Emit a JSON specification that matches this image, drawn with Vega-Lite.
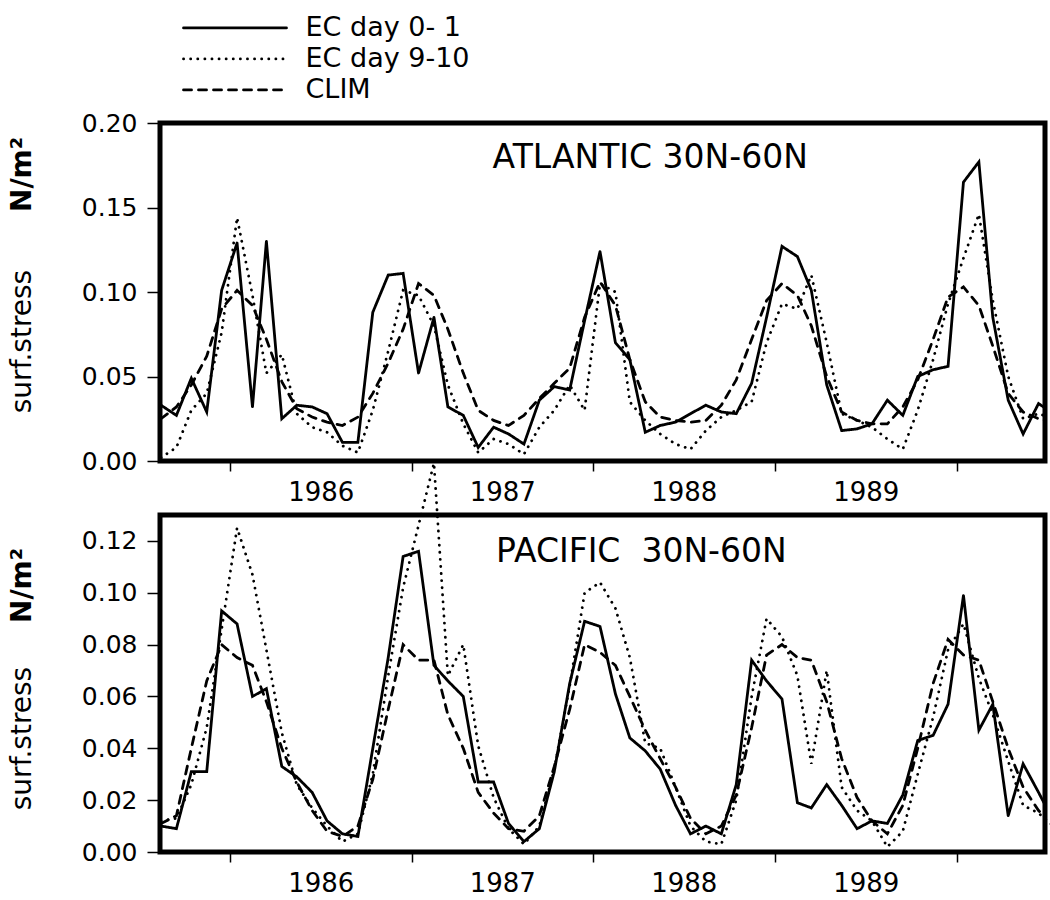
{
  "$schema": "https://vega.github.io/schema/vega-lite/v6.json",
  "background": "white",
  "padding": {"left": 5, "top": 11, "right": 0, "bottom": 5},
  "config": {
    "font": "DejaVu Sans",
    "view": {"stroke": "black", "strokeWidth": 5},
    "axis": {"grid": false, "domain": false, "labelColor": "black", "tickColor": "black", "titleColor": "black", "labelFont": "DejaVu Sans", "titleFont": "DejaVu Sans"},
    "legend": {"labelFont": "DejaVu Sans"}
  },
  "datasets": {
    "atl": [
      {"date": "1985-08-15", "ec01": 0.033, "ec910": 0.002, "clim": 0.025},
      {"date": "1985-09-15", "ec01": 0.027, "ec910": 0.008, "clim": 0.032},
      {"date": "1985-10-15", "ec01": 0.049, "ec910": 0.030, "clim": 0.045},
      {"date": "1985-11-15", "ec01": 0.029, "ec910": 0.040, "clim": 0.062},
      {"date": "1985-12-15", "ec01": 0.101, "ec910": 0.076, "clim": 0.090},
      {"date": "1986-01-15", "ec01": 0.129, "ec910": 0.144, "clim": 0.101},
      {"date": "1986-02-15", "ec01": 0.032, "ec910": 0.098, "clim": 0.092},
      {"date": "1986-03-15", "ec01": 0.130, "ec910": 0.052, "clim": 0.072},
      {"date": "1986-04-15", "ec01": 0.025, "ec910": 0.063, "clim": 0.047},
      {"date": "1986-05-15", "ec01": 0.033, "ec910": 0.028, "clim": 0.031},
      {"date": "1986-06-15", "ec01": 0.032, "ec910": 0.020, "clim": 0.026},
      {"date": "1986-07-15", "ec01": 0.028, "ec910": 0.017, "clim": 0.023},
      {"date": "1986-08-15", "ec01": 0.011, "ec910": 0.009, "clim": 0.021},
      {"date": "1986-09-15", "ec01": 0.011, "ec910": 0.005, "clim": 0.026},
      {"date": "1986-10-15", "ec01": 0.088, "ec910": 0.030, "clim": 0.040},
      {"date": "1986-11-15", "ec01": 0.110, "ec910": 0.065, "clim": 0.058},
      {"date": "1986-12-15", "ec01": 0.111, "ec910": 0.101, "clim": 0.078},
      {"date": "1987-01-15", "ec01": 0.052, "ec910": 0.098, "clim": 0.105},
      {"date": "1987-02-15", "ec01": 0.085, "ec910": 0.080, "clim": 0.098},
      {"date": "1987-03-15", "ec01": 0.032, "ec910": 0.045, "clim": 0.078},
      {"date": "1987-04-15", "ec01": 0.027, "ec910": 0.022, "clim": 0.052},
      {"date": "1987-05-15", "ec01": 0.008, "ec910": 0.005, "clim": 0.030},
      {"date": "1987-06-15", "ec01": 0.020, "ec910": 0.013, "clim": 0.024},
      {"date": "1987-07-15", "ec01": 0.016, "ec910": 0.010, "clim": 0.021},
      {"date": "1987-08-15", "ec01": 0.010, "ec910": 0.004, "clim": 0.027},
      {"date": "1987-09-15", "ec01": 0.036, "ec910": 0.020, "clim": 0.037},
      {"date": "1987-10-15", "ec01": 0.044, "ec910": 0.030, "clim": 0.046},
      {"date": "1987-11-15", "ec01": 0.042, "ec910": 0.045, "clim": 0.055},
      {"date": "1987-12-15", "ec01": 0.083, "ec910": 0.030, "clim": 0.085},
      {"date": "1988-01-15", "ec01": 0.124, "ec910": 0.105, "clim": 0.106},
      {"date": "1988-02-15", "ec01": 0.070, "ec910": 0.100, "clim": 0.092},
      {"date": "1988-03-15", "ec01": 0.060, "ec910": 0.035, "clim": 0.060},
      {"date": "1988-04-15", "ec01": 0.017, "ec910": 0.024, "clim": 0.035},
      {"date": "1988-05-15", "ec01": 0.021, "ec910": 0.016, "clim": 0.026},
      {"date": "1988-06-15", "ec01": 0.023, "ec910": 0.010, "clim": 0.024},
      {"date": "1988-07-15", "ec01": 0.028, "ec910": 0.007, "clim": 0.023},
      {"date": "1988-08-15", "ec01": 0.033, "ec910": 0.018, "clim": 0.024},
      {"date": "1988-09-15", "ec01": 0.029, "ec910": 0.026, "clim": 0.033},
      {"date": "1988-10-15", "ec01": 0.028, "ec910": 0.030, "clim": 0.048},
      {"date": "1988-11-15", "ec01": 0.046, "ec910": 0.035, "clim": 0.072},
      {"date": "1988-12-15", "ec01": 0.085, "ec910": 0.070, "clim": 0.095},
      {"date": "1989-01-15", "ec01": 0.127, "ec910": 0.093, "clim": 0.105},
      {"date": "1989-02-15", "ec01": 0.121, "ec910": 0.090, "clim": 0.098},
      {"date": "1989-03-15", "ec01": 0.101, "ec910": 0.110, "clim": 0.080},
      {"date": "1989-04-15", "ec01": 0.045, "ec910": 0.070, "clim": 0.050},
      {"date": "1989-05-15", "ec01": 0.018, "ec910": 0.028, "clim": 0.029},
      {"date": "1989-06-15", "ec01": 0.019, "ec910": 0.024, "clim": 0.024},
      {"date": "1989-07-15", "ec01": 0.022, "ec910": 0.020, "clim": 0.022},
      {"date": "1989-08-15", "ec01": 0.036, "ec910": 0.013, "clim": 0.022},
      {"date": "1989-09-15", "ec01": 0.027, "ec910": 0.007, "clim": 0.032},
      {"date": "1989-10-15", "ec01": 0.050, "ec910": 0.030, "clim": 0.048},
      {"date": "1989-11-15", "ec01": 0.054, "ec910": 0.060, "clim": 0.072},
      {"date": "1989-12-15", "ec01": 0.056, "ec910": 0.093, "clim": 0.097},
      {"date": "1990-01-15", "ec01": 0.165, "ec910": 0.120, "clim": 0.103},
      {"date": "1990-02-15", "ec01": 0.177, "ec910": 0.146, "clim": 0.092},
      {"date": "1990-03-15", "ec01": 0.085, "ec910": 0.095, "clim": 0.068},
      {"date": "1990-04-15", "ec01": 0.036, "ec910": 0.050, "clim": 0.040},
      {"date": "1990-05-15", "ec01": 0.016, "ec910": 0.025, "clim": 0.029},
      {"date": "1990-06-15", "ec01": 0.034, "ec910": 0.028, "clim": 0.025},
      {"date": "1990-07-15", "ec01": 0.028, "ec910": 0.025, "clim": 0.023}
    ],
    "pac": [
      {"date": "1985-08-15", "ec01": 0.010, "ec910": 0.012, "clim": 0.011},
      {"date": "1985-09-15", "ec01": 0.009, "ec910": 0.013, "clim": 0.014},
      {"date": "1985-10-15", "ec01": 0.031, "ec910": 0.026, "clim": 0.040},
      {"date": "1985-11-15", "ec01": 0.031, "ec910": 0.048, "clim": 0.066},
      {"date": "1985-12-15", "ec01": 0.093, "ec910": 0.086, "clim": 0.080},
      {"date": "1986-01-15", "ec01": 0.088, "ec910": 0.125, "clim": 0.075},
      {"date": "1986-02-15", "ec01": 0.060, "ec910": 0.107, "clim": 0.072},
      {"date": "1986-03-15", "ec01": 0.063, "ec910": 0.078, "clim": 0.058},
      {"date": "1986-04-15", "ec01": 0.033, "ec910": 0.046, "clim": 0.040},
      {"date": "1986-05-15", "ec01": 0.029, "ec910": 0.026, "clim": 0.027},
      {"date": "1986-06-15", "ec01": 0.023, "ec910": 0.017, "clim": 0.016},
      {"date": "1986-07-15", "ec01": 0.012, "ec910": 0.010, "clim": 0.008},
      {"date": "1986-08-15", "ec01": 0.007, "ec910": 0.004, "clim": 0.006},
      {"date": "1986-09-15", "ec01": 0.006, "ec910": 0.007, "clim": 0.010},
      {"date": "1986-10-15", "ec01": 0.040, "ec910": 0.030, "clim": 0.028},
      {"date": "1986-11-15", "ec01": 0.075, "ec910": 0.068, "clim": 0.055},
      {"date": "1986-12-15", "ec01": 0.114, "ec910": 0.102, "clim": 0.080},
      {"date": "1987-01-15", "ec01": 0.116, "ec910": 0.126, "clim": 0.074},
      {"date": "1987-02-15", "ec01": 0.072, "ec910": 0.150, "clim": 0.074},
      {"date": "1987-03-15", "ec01": 0.066, "ec910": 0.068, "clim": 0.053},
      {"date": "1987-04-15", "ec01": 0.060, "ec910": 0.080, "clim": 0.040},
      {"date": "1987-05-15", "ec01": 0.027, "ec910": 0.041, "clim": 0.023},
      {"date": "1987-06-15", "ec01": 0.027, "ec910": 0.021, "clim": 0.015},
      {"date": "1987-07-15", "ec01": 0.011, "ec910": 0.009, "clim": 0.009},
      {"date": "1987-08-15", "ec01": 0.004, "ec910": 0.003, "clim": 0.008},
      {"date": "1987-09-15", "ec01": 0.009, "ec910": 0.010, "clim": 0.014},
      {"date": "1987-10-15", "ec01": 0.031, "ec910": 0.032, "clim": 0.033},
      {"date": "1987-11-15", "ec01": 0.065, "ec910": 0.064, "clim": 0.055},
      {"date": "1987-12-15", "ec01": 0.089, "ec910": 0.100, "clim": 0.080},
      {"date": "1988-01-15", "ec01": 0.087, "ec910": 0.104, "clim": 0.077},
      {"date": "1988-02-15", "ec01": 0.061, "ec910": 0.094, "clim": 0.072},
      {"date": "1988-03-15", "ec01": 0.044, "ec910": 0.075, "clim": 0.060},
      {"date": "1988-04-15", "ec01": 0.039, "ec910": 0.042, "clim": 0.047},
      {"date": "1988-05-15", "ec01": 0.032, "ec910": 0.040, "clim": 0.036},
      {"date": "1988-06-15", "ec01": 0.018, "ec910": 0.025, "clim": 0.025},
      {"date": "1988-07-15", "ec01": 0.007, "ec910": 0.010, "clim": 0.013},
      {"date": "1988-08-15", "ec01": 0.010, "ec910": 0.004, "clim": 0.007},
      {"date": "1988-09-15", "ec01": 0.007, "ec910": 0.003, "clim": 0.010},
      {"date": "1988-10-15", "ec01": 0.026, "ec910": 0.020, "clim": 0.022},
      {"date": "1988-11-15", "ec01": 0.074, "ec910": 0.060, "clim": 0.048},
      {"date": "1988-12-15", "ec01": 0.066, "ec910": 0.090, "clim": 0.076},
      {"date": "1989-01-15", "ec01": 0.059, "ec910": 0.083, "clim": 0.080},
      {"date": "1989-02-15", "ec01": 0.019, "ec910": 0.068, "clim": 0.075},
      {"date": "1989-03-15", "ec01": 0.017, "ec910": 0.034, "clim": 0.074},
      {"date": "1989-04-15", "ec01": 0.026, "ec910": 0.070, "clim": 0.058},
      {"date": "1989-05-15", "ec01": 0.018, "ec910": 0.025, "clim": 0.036},
      {"date": "1989-06-15", "ec01": 0.009, "ec910": 0.016, "clim": 0.021},
      {"date": "1989-07-15", "ec01": 0.012, "ec910": 0.012, "clim": 0.012},
      {"date": "1989-08-15", "ec01": 0.011, "ec910": 0.002, "clim": 0.007},
      {"date": "1989-09-15", "ec01": 0.022, "ec910": 0.008, "clim": 0.018},
      {"date": "1989-10-15", "ec01": 0.043, "ec910": 0.030, "clim": 0.040},
      {"date": "1989-11-15", "ec01": 0.045, "ec910": 0.052, "clim": 0.065},
      {"date": "1989-12-15", "ec01": 0.057, "ec910": 0.078, "clim": 0.082},
      {"date": "1990-01-15", "ec01": 0.099, "ec910": 0.088, "clim": 0.076},
      {"date": "1990-02-15", "ec01": 0.047, "ec910": 0.067, "clim": 0.074},
      {"date": "1990-03-15", "ec01": 0.057, "ec910": 0.053, "clim": 0.058},
      {"date": "1990-04-15", "ec01": 0.014, "ec910": 0.035, "clim": 0.040},
      {"date": "1990-05-15", "ec01": 0.034, "ec910": 0.018, "clim": 0.025},
      {"date": "1990-06-15", "ec01": 0.023, "ec910": 0.015, "clim": 0.016},
      {"date": "1990-07-15", "ec01": 0.012, "ec910": 0.010, "clim": 0.010}
    ],
    "atlLabel": [{"region": "ATLANTIC 30N-60N"}],
    "pacLabel": [{"region": "PACIFIC\u00a0 30N-60N"}]
  },
  "bounds": "flush",
  "spacing": 54,
  "resolve": {"scale": {"strokeDash": "independent"}, "legend": {"strokeDash": "independent"}},
  "vconcat": [
    {
      "width": 885,
      "height": 338,
      "resolve": {"axis": {"y": "independent"}},
      "layer": [
        {
          "data": {"name": "atl"},
          "transform": [{"fold": ["ec01", "ec910", "clim"], "as": ["series", "stress"]}],
          "mark": {"type": "line", "color": "black", "strokeWidth": 2.8, "strokeCap": "round", "clip": true},
          "encoding": {
            "x": {
              "field": "date", "type": "temporal",
              "scale": {"type": "utc", "domain": [{"year": 1985, "month": 8, "date": 13, "utc": true}, {"year": 1990, "month": 6, "date": 28, "utc": true}]},
              "axis": {
                "title": null,
                "values": [
                  {"year": 1986, "month": 1, "date": 1, "utc": true},
                  {"year": 1987, "month": 1, "date": 1, "utc": true},
                  {"year": 1988, "month": 1, "date": 1, "utc": true},
                  {"year": 1989, "month": 1, "date": 1, "utc": true},
                  {"year": 1990, "month": 1, "date": 1, "utc": true}
                ],
                "labelExpr": "utcyear(datum.value) < 1990 ? utcFormat(datum.value, '%Y') : ''",
                "labelOffset": 90.7,
                "tickSize": 10, "tickWidth": 1.5, "labelFontSize": 26, "labelPadding": 8,
                "labelOverlap": false, "labelFlush": false, "labelBound": false
              }
            },
            "y": {
              "field": "stress", "type": "quantitative",
              "scale": {"domain": [0, 0.2]},
              "axis": {
                "orient": "left", "values": [0, 0.05, 0.1, 0.15, 0.2], "format": ".2f",
                "labelFontSize": 25, "tickSize": 13, "tickWidth": 1.5, "labelPadding": 10,
                "labelOverlap": false, "labelFlush": false,
                "title": "surf.stress", "titleFontSize": 28, "titleFontWeight": "normal",
                "titleX": -130, "titleY": 218, "titleAngle": 270, "titleBaseline": "alphabetic", "titleAlign": "center"
              }
            },
            "strokeDash": {
              "field": "series", "type": "nominal",
              "scale": {"domain": ["ec01", "ec910", "clim"], "range": [[1, 0], [0.1, 7], [8, 7]]},
              "legend": {
                "orient": "none", "legendX": 61.5, "legendY": -108.6, "title": null,
                "symbolType": "M-5,0H5", "symbolSize": 424, "symbolStrokeWidth": 2.8, "symbolStrokeColor": "black",
                "labelFontSize": 27, "labelColor": "black", "labelOffset": 57, "labelLimit": 400, "rowPadding": 3, "padding": 0,
                "labelExpr": "datum.value == 'ec01' ? 'EC day 0- 1' : datum.value == 'ec910' ? 'EC day 9-10' : 'CLIM'",
                "encode": {"symbols": {"update": {"strokeCap": {"value": "round"}}}}
              }
            }
          }
        },
        {
          "data": {"name": "atlLabel"},
          "mark": {"type": "text", "align": "left", "baseline": "middle", "fontSize": 33, "color": "black", "font": "DejaVu Sans"},
          "encoding": {
            "x": {
              "datum": {"year": 1987, "month": 6, "date": 13, "utc": true}, "type": "temporal",
              "axis": {
                "title": null,
                "values": [
                  {"year": 1986, "month": 1, "date": 1, "utc": true},
                  {"year": 1987, "month": 1, "date": 1, "utc": true},
                  {"year": 1988, "month": 1, "date": 1, "utc": true},
                  {"year": 1989, "month": 1, "date": 1, "utc": true},
                  {"year": 1990, "month": 1, "date": 1, "utc": true}
                ],
                "labelExpr": "utcyear(datum.value) < 1990 ? utcFormat(datum.value, '%Y') : ''",
                "labelOffset": 90.7,
                "tickSize": 10, "tickWidth": 1.5, "labelFontSize": 26, "labelPadding": 8,
                "labelOverlap": false, "labelFlush": false, "labelBound": false
              }
            },
            "y": {
              "datum": 0.179, "type": "quantitative",
              "axis": {
                "orient": "left", "labels": false, "ticks": false, "domain": false,
                "title": "N/m²", "titleFontSize": 28, "titleFontWeight": "bold",
                "titleX": -130, "titleY": 51, "titleAngle": 270, "titleBaseline": "alphabetic", "titleAlign": "center"
              }
            },
            "text": {"field": "region"}
          }
        }
      ]
    },
    {
      "width": 885,
      "height": 337,
      "resolve": {"axis": {"y": "independent"}},
      "layer": [
        {
          "data": {"name": "pac"},
          "transform": [{"fold": ["ec01", "ec910", "clim"], "as": ["series", "stress"]}, {"filter": "datum.series != 'ec910'"}],
          "mark": {"type": "line", "color": "black", "strokeWidth": 2.8, "strokeCap": "round", "clip": true},
          "encoding": {
            "x": {
              "field": "date", "type": "temporal",
              "scale": {"type": "utc", "domain": [{"year": 1985, "month": 8, "date": 13, "utc": true}, {"year": 1990, "month": 6, "date": 28, "utc": true}]},
              "axis": {
                "title": null,
                "values": [
                  {"year": 1986, "month": 1, "date": 1, "utc": true},
                  {"year": 1987, "month": 1, "date": 1, "utc": true},
                  {"year": 1988, "month": 1, "date": 1, "utc": true},
                  {"year": 1989, "month": 1, "date": 1, "utc": true},
                  {"year": 1990, "month": 1, "date": 1, "utc": true}
                ],
                "labelExpr": "utcyear(datum.value) < 1990 ? utcFormat(datum.value, '%Y') : ''",
                "labelOffset": 90.7,
                "tickSize": 10, "tickWidth": 1.5, "labelFontSize": 26, "labelPadding": 8,
                "labelOverlap": false, "labelFlush": false, "labelBound": false
              }
            },
            "y": {
              "field": "stress", "type": "quantitative",
              "scale": {"domain": [0, 0.13]},
              "axis": {
                "orient": "left", "values": [0, 0.02, 0.04, 0.06, 0.08, 0.1, 0.12], "format": ".2f",
                "labelFontSize": 25, "tickSize": 13, "tickWidth": 1.5, "labelPadding": 10,
                "labelOverlap": false, "labelFlush": false,
                "title": "surf.stress", "titleFontSize": 28, "titleFontWeight": "normal",
                "titleX": -130, "titleY": 223, "titleAngle": 270, "titleBaseline": "alphabetic", "titleAlign": "center"
              }
            },
            "strokeDash": {
              "field": "series", "type": "nominal",
              "scale": {"domain": ["ec01", "ec910", "clim"], "range": [[1, 0], [0.1, 7], [8, 7]]},
              "legend": null
            }
          }
        },
        {
          "data": {"name": "pac"},
          "transform": [{"fold": ["ec01", "ec910", "clim"], "as": ["series", "stress"]}, {"filter": "datum.series == 'ec910'"}],
          "mark": {"type": "line", "color": "black", "strokeWidth": 2.8, "strokeCap": "round", "clip": false},
          "encoding": {
            "x": {
              "field": "date", "type": "temporal",
              "axis": {
                "title": null,
                "values": [
                  {"year": 1986, "month": 1, "date": 1, "utc": true},
                  {"year": 1987, "month": 1, "date": 1, "utc": true},
                  {"year": 1988, "month": 1, "date": 1, "utc": true},
                  {"year": 1989, "month": 1, "date": 1, "utc": true},
                  {"year": 1990, "month": 1, "date": 1, "utc": true}
                ],
                "labelExpr": "utcyear(datum.value) < 1990 ? utcFormat(datum.value, '%Y') : ''",
                "labelOffset": 90.7,
                "tickSize": 10, "tickWidth": 1.5, "labelFontSize": 26, "labelPadding": 8,
                "labelOverlap": false, "labelFlush": false, "labelBound": false
              }
            },
            "y": {"field": "stress", "type": "quantitative", "axis": null},
            "strokeDash": {"field": "series", "type": "nominal", "legend": null}
          }
        },
        {
          "data": {"name": "pacLabel"},
          "mark": {"type": "text", "align": "left", "baseline": "middle", "fontSize": 33, "color": "black", "font": "DejaVu Sans"},
          "encoding": {
            "x": {
              "datum": {"year": 1987, "month": 6, "date": 20, "utc": true}, "type": "temporal",
              "axis": {
                "title": null,
                "values": [
                  {"year": 1986, "month": 1, "date": 1, "utc": true},
                  {"year": 1987, "month": 1, "date": 1, "utc": true},
                  {"year": 1988, "month": 1, "date": 1, "utc": true},
                  {"year": 1989, "month": 1, "date": 1, "utc": true},
                  {"year": 1990, "month": 1, "date": 1, "utc": true}
                ],
                "labelExpr": "utcyear(datum.value) < 1990 ? utcFormat(datum.value, '%Y') : ''",
                "labelOffset": 90.7,
                "tickSize": 10, "tickWidth": 1.5, "labelFontSize": 26, "labelPadding": 8,
                "labelOverlap": false, "labelFlush": false, "labelBound": false
              }
            },
            "y": {
              "datum": 0.1158, "type": "quantitative",
              "axis": {
                "orient": "left", "labels": false, "ticks": false, "domain": false,
                "title": "N/m²", "titleFontSize": 28, "titleFontWeight": "bold",
                "titleX": -130, "titleY": 70, "titleAngle": 270, "titleBaseline": "alphabetic", "titleAlign": "center"
              }
            },
            "text": {"field": "region"}
          }
        }
      ]
    }
  ]
}
